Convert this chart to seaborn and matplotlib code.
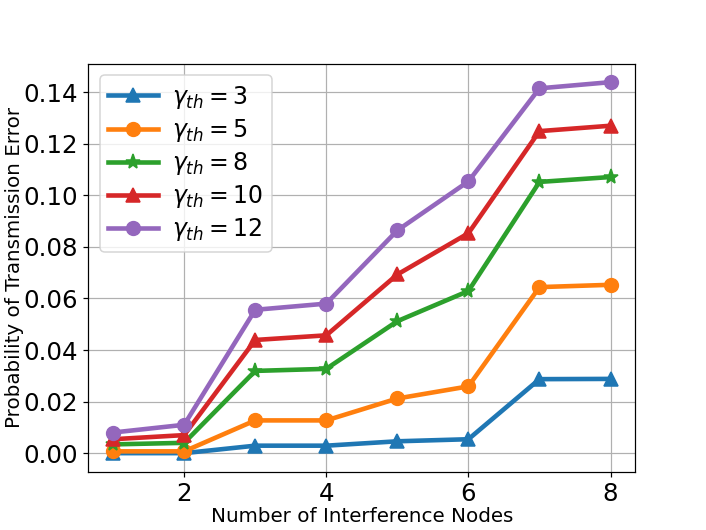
import matplotlib
matplotlib.use("Agg")
import matplotlib.pyplot as plt
import seaborn as sns

# x axis: number of interference nodes
nodes = [1, 2, 3, 4, 5, 6, 7, 8]

# probability of transmission error per threshold
err_th3 = [0.0000, 0.0000, 0.0029, 0.0029, 0.0046, 0.0054, 0.0287, 0.0288]
err_th5 = [0.0007, 0.0007, 0.0127, 0.0127, 0.0212, 0.0259, 0.0644, 0.0653]
err_th8 = [0.0034, 0.0040, 0.0319, 0.0327, 0.0512, 0.0629, 0.1052, 0.1071]
err_th10 = [0.0054, 0.0070, 0.0439, 0.0457, 0.0693, 0.0853, 0.1249, 0.1270]
err_th12 = [0.0080, 0.0110, 0.0556, 0.0580, 0.0864, 0.1054, 0.1415, 0.1439]

labels = [r"$\gamma_{th} = 3$", r"$\gamma_{th} = 5$", r"$\gamma_{th} = 8$",
          r"$\gamma_{th} = 10$", r"$\gamma_{th} = 12$"]
markers = ["^", "o", "*", "^", "o"]
series = [err_th3, err_th5, err_th8, err_th10, err_th12]

colors = sns.color_palette("tab10", 5)

fig, ax = plt.subplots(figsize=(706 / 110, 530 / 110), dpi=110)

for vals, lab, mk, col in zip(series, labels, markers, colors):
    sns.lineplot(x=nodes, y=vals, ax=ax, label=lab, color=col, marker=mk,
                 linewidth=3, markersize=9 if mk != "*" else 10,
                 markeredgecolor=col, markeredgewidth=1)

ax.grid(True)
ax.set_xlabel("Number of Interference Nodes", fontsize=13, labelpad=0.5)
ax.set_ylabel("Probability of Transmission Error", fontsize=13, labelpad=-1)
ax.tick_params(axis="both", labelsize=16)
ax.legend(loc="upper left", fontsize=15.5, handlelength=2.1,
          handletextpad=0.6, labelspacing=0.26, borderpad=0.35)

plt.savefig("out.png", dpi=110)
